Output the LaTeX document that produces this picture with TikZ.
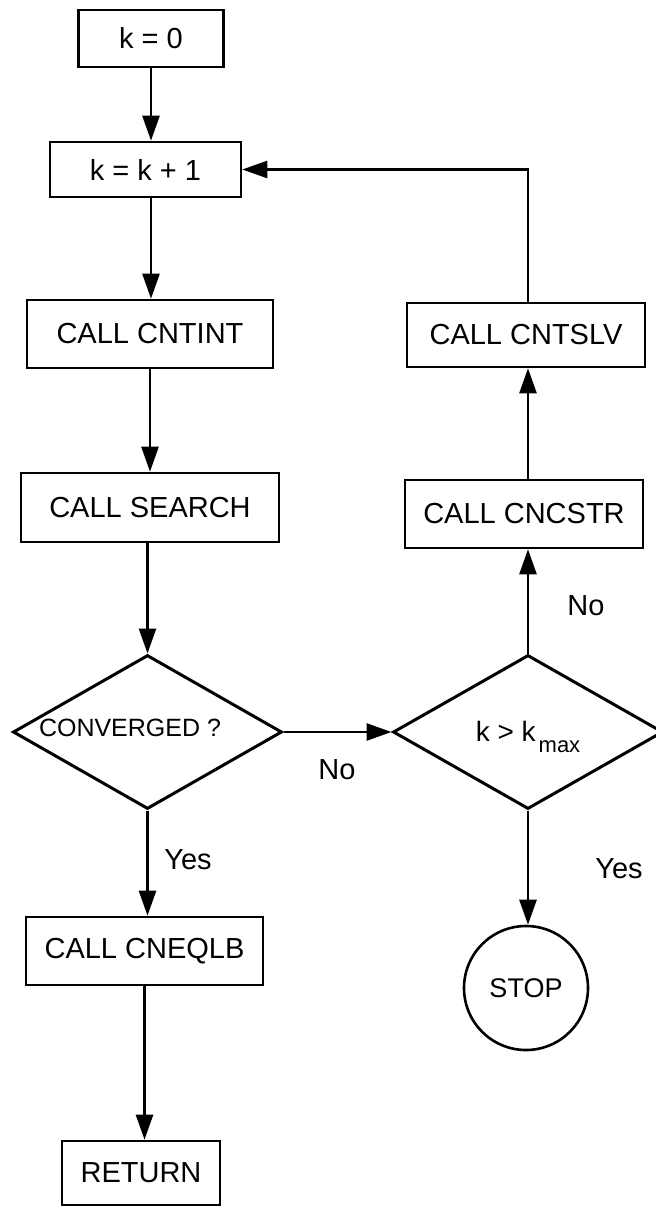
\documentclass[tikz,border=0pt]{standalone}
\usepackage{fontspec}
\setmainfont{Liberation Sans}
\usetikzlibrary{shapes.geometric,arrows.meta}
\begin{document}
\begin{tikzpicture}[x=1pt,y=-1pt,
  proc/.style={draw,line width=2.6pt,inner sep=0pt,font=\fontsize{29pt}{29pt}\selectfont},
  decision/.style={draw,diamond,line width=3pt,inner sep=0pt},
  lbl/.style={inner sep=0pt,font=\fontsize{29pt}{29pt}\selectfont},
  flow/.style={line width=2.6pt,-{Triangle[length=25pt,width=17pt]}}]
\useasboundingbox (0,0) rectangle (656,1208);
\clip (0,0) rectangle (656,1208);

% main column
\node[proc,minimum width=145pt,minimum height=57pt] (k0) at (151,38.5) {k = 0};
\node[proc,minimum width=191pt,minimum height=55pt] (kk1) at (145.5,169.5) {k = k + 1};
\node[proc,minimum width=246pt,minimum height=68pt] (cntint) at (150,334) {CALL CNTINT};
\node[proc,minimum width=258pt,minimum height=69pt] (search) at (150,507.5) {CALL SEARCH};
\node[decision,minimum width=269pt,minimum height=154pt] (conv) at (147.5,732) {};
\node[inner sep=0pt,font=\fontsize{25pt}{25pt}\selectfont] (convtxt) at (130,728) {CONVERGED ?};
\node[proc,minimum width=237pt,minimum height=68pt] (cneqlb) at (144.5,951) {CALL CNEQLB};
\node[proc,minimum width=158pt,minimum height=64pt] (ret) at (141,1173) {RETURN};

% iteration branch
\node[proc,minimum width=238pt,minimum height=64pt] (cntslv) at (526,335) {CALL CNTSLV};
\node[proc,minimum width=238pt,minimum height=68pt] (cncstr) at (524,514) {CALL CNCSTR};
\node[decision,minimum width=270pt,minimum height=154pt] (kmax) at (528,732) {};
\node[inner sep=0pt,font=\fontsize{28pt}{28pt}\selectfont] (kmaxtxt) at (528,737)
  {k > k\hspace{3pt}\raisebox{-11pt}{\fontsize{22pt}{22pt}\selectfont max}};
\node[draw,circle,line width=2.6pt,minimum size=124pt,inner sep=0pt,
  font=\fontsize{27pt}{27pt}\selectfont] (stop) at (526,988) {STOP};

% connectors
\draw[flow] (k0.south) -- (k0.south |- kk1.north);
\draw[flow] (k0.south |- kk1.south) -- (k0.south |- cntint.north);
\draw[flow] (cntint.south) -- (cntint.south |- search.north);
\draw[flow] (search.south -| conv.north) -- (conv.north);
\draw[flow] (conv.south) -- (conv.south |- cneqlb.north);
\draw[flow] (cneqlb.south) -- (cneqlb.south |- ret.north);
\draw[flow] (conv.east) -- (kmax.west);
\draw[flow] (kmax.north) -- (kmax.north |- cncstr.south);
\draw[flow] (kmax.north |- cncstr.north) -- (kmax.north |- cntslv.south);
\draw[flow] (kmax.north |- cntslv.north) |- (kk1.east);
\draw[flow] (kmax.south) -- (kmax.south |- stop.north);

% branch labels
\node[lbl] (no1) at (337,770) {No};
\node[lbl] (no2) at (586,606) {No};
\node[lbl] (yes1) at (188,860) {Yes};
\node[lbl] (yes2) at (619,869) {Yes};
\end{tikzpicture}
\end{document}
